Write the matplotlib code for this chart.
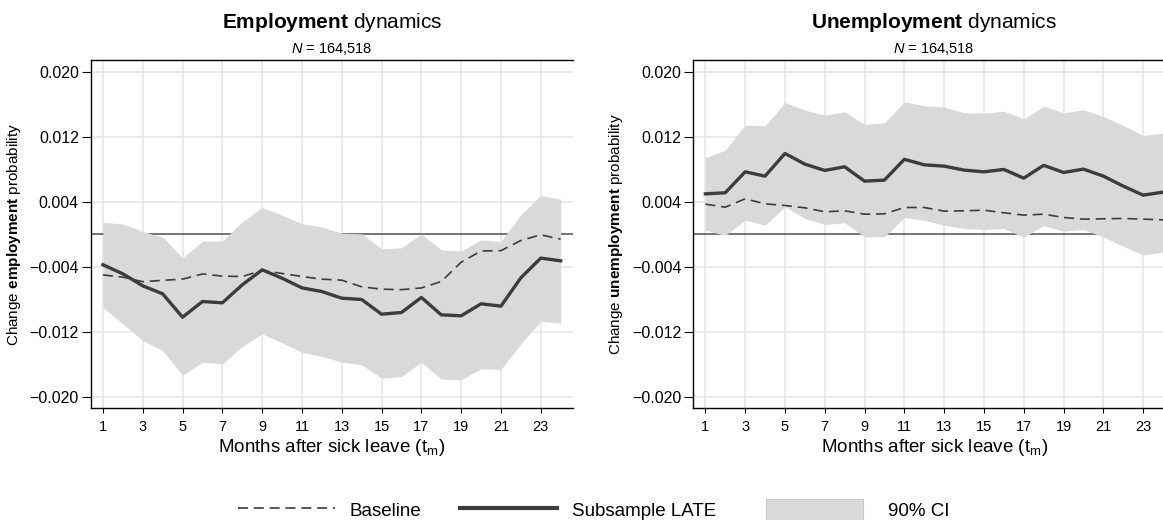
import numpy as np
import matplotlib
matplotlib.use("Agg")
import matplotlib.pyplot as plt
from matplotlib.lines import Line2D
from matplotlib.patches import Patch

plt.rcParams['font.family'] = ['Liberation Sans', 'DejaVu Sans']
plt.rcParams['mathtext.fontset'] = 'custom'
plt.rcParams['mathtext.rm'] = 'Liberation Sans'
plt.rcParams['mathtext.it'] = 'Liberation Sans:italic'
plt.rcParams['mathtext.bf'] = 'Liberation Sans:bold'

######################
months = np.arange(1, 25)

# employment: baseline, subsample LATE and 90% CI bounds
emp_base = [-0.00502, -0.00529, -0.00585, -0.00568, -0.00554, -0.00490, -0.00517, -0.00521,
            -0.00447, -0.00484, -0.00521, -0.00554, -0.00566, -0.00648, -0.00677, -0.00683,
            -0.00662, -0.00583, -0.00345, -0.00207, -0.00203, -0.00078, -0.00008, -0.00062]
emp_late = [-0.00377, -0.00488, -0.00636, -0.00734, -0.01022, -0.00829, -0.00845, -0.00624,
            -0.00439, -0.00542, -0.00661, -0.00706, -0.00788, -0.00804, -0.00985, -0.00964,
            -0.00779, -0.00993, -0.01005, -0.00857, -0.00886, -0.00537, -0.00295, -0.00328]
emp_hi = [0.00144, 0.00127, 0.00033, -0.00037, -0.00291, -0.00086, -0.00086, 0.00152,
          0.00328, 0.00234, 0.00127, 0.00088, 0.00012, 0.00004, -0.00181, -0.00168,
          0.00004, -0.00193, -0.00209, -0.00070, -0.00090, 0.00238, 0.00476, 0.00431]
emp_lo = [-0.00903, -0.01104, -0.01309, -0.01432, -0.01740, -0.01575, -0.01596, -0.01383,
          -0.01227, -0.01337, -0.01452, -0.01504, -0.01575, -0.01608, -0.01772, -0.01752,
          -0.01575, -0.01784, -0.01792, -0.01657, -0.01665, -0.01350, -0.01071, -0.01095]

# unemployment
unemp_base = [0.00369, 0.00332, 0.00435, 0.00373, 0.00353, 0.00324, 0.00275, 0.00287,
              0.00246, 0.00250, 0.00328, 0.00328, 0.00283, 0.00287, 0.00295, 0.00263,
              0.00234, 0.00246, 0.00205, 0.00185, 0.00189, 0.00193, 0.00185, 0.00176]
unemp_late = [0.00496, 0.00509, 0.00767, 0.00714, 0.00993, 0.00862, 0.00784, 0.00829,
              0.00652, 0.00665, 0.00921, 0.00853, 0.00837, 0.00788, 0.00767, 0.00796,
              0.00689, 0.00847, 0.00759, 0.00800, 0.00714, 0.00591, 0.00480, 0.00517]
unemp_hi = [0.00940, 0.01034, 0.01342, 0.01333, 0.01620, 0.01526, 0.01465, 0.01506,
            0.01350, 0.01370, 0.01629, 0.01580, 0.01563, 0.01494, 0.01490, 0.01514,
            0.01420, 0.01575, 0.01493, 0.01530, 0.01448, 0.01337, 0.01214, 0.01243]
unemp_lo = [0.00049, -0.00016, 0.00172, 0.00111, 0.00336, 0.00193, 0.00119, 0.00140,
            -0.00033, -0.00033, 0.00205, 0.00172, 0.00111, 0.00070, 0.00057, 0.00070,
            -0.00037, 0.00105, 0.00037, 0.00057, -0.00033, -0.00150, -0.00254, -0.00222]

n_obs = '164,518'
yticks = [-0.020, -0.012, -0.004, 0.004, 0.012, 0.020]
xticks = list(range(1, 24, 2))
legend_labels = ['Baseline', 'Subsample LATE', '90% CI']
######################

ci_col = '#d9d9d9'
line_col = '#3c3c3c'
grid_col = '#e4e4e4'
dash = (0, (6, 3.5))

fig = plt.figure(figsize=(11.63, 5.2), dpi=100)

W, H = 1163., 520.
ax_w = 481.6 / W
ax_b = 1 - 408.3 / H
ax_h = (408.3 - 60.) / H
axes = [fig.add_axes([91. / W, ax_b, ax_w, ax_h]),
        fig.add_axes([693.4 / W, ax_b, ax_w, ax_h])]

panels = [
    (emp_base, emp_late, emp_lo, emp_hi, 'Employment', 'employment'),
    (unemp_base, unemp_late, unemp_lo, unemp_hi, 'Unemployment', 'unemployment'),
]

for ax, (base, late, lo, hi, ttl, word) in zip(axes, panels):
    ax.set_xlim(0.4, 24.6)
    ax.set_ylim(-0.02143, 0.02143)

    # grid first, then zero line, CI band on top of both
    for xv in xticks:
        ax.axvline(xv, color=grid_col, lw=1.1, zorder=0)
    for yv in yticks:
        ax.axhline(yv, color=grid_col, lw=1.1, zorder=0)
    ax.axhline(0, color='#505050', lw=1.1, zorder=1)

    ax.fill_between(months, lo, hi, color=ci_col, lw=0, zorder=2)
    ax.plot(months, base, color=line_col, lw=1.2, ls=dash, zorder=3)
    ax.plot(months, late, color=line_col, lw=2.4, zorder=4)

    ax.set_xticks(xticks)
    ax.set_yticks(yticks)
    ax.set_yticklabels(['%.3f' % v if v > 0 else '\u2212%.3f' % abs(v) for v in yticks])
    ax.tick_params(axis='x', length=3.6, width=0.8, pad=5, labelsize=10.5)
    ax.tick_params(axis='y', length=6.7, width=0.8, pad=2, labelsize=11.5)

    for side in ['left', 'bottom', 'top']:
        ax.spines[side].set_linewidth(1.0)
        ax.spines[side].set_color('black')
    ax.spines['right'].set_visible(False)

    ax.set_xlabel('Months after sick leave (t$_\\mathrm{m}$)', fontsize=13.5, labelpad=2)
    ax.set_ylabel('Change $\\mathbf{%s}$ probability' % word, fontsize=11)
    ax.yaxis.set_label_coords(-0.141, 0.5)

    # title and sample size above the plot region
    xc = ax.get_position().x0 + ax.get_position().width / 2
    fig.text(xc, 1 - 27.5 / H, '$\\mathbf{%s}$ dynamics' % ttl, fontsize=15,
             ha='center', va='baseline')
    fig.text(xc, 1 - 53. / H, '$N$ = ' + n_obs, fontsize=10.5,
             ha='center', va='baseline')

# legend keys, one small legend each so the gaps can be set separately
handles = [Line2D([], [], color=line_col, lw=1.2, ls=dash),
           Line2D([], [], color=line_col, lw=3.0),
           Patch(facecolor=ci_col, edgecolor='#c8c8c8', lw=0.8)]
key_x = [238., 460., 766.]
text_pad = [0.8, 0.8, 1.35]
for h, lab, kx, tp in zip(handles, legend_labels, key_x, text_pad):
    leg = fig.legend([h], [lab], loc='center left', bbox_to_anchor=(kx / W, 1 - 510. / H),
                     frameon=False, fontsize=13.5, handlelength=5.15, handleheight=1.4,
                     handletextpad=tp, borderpad=0, borderaxespad=0)

plt.savefig('out.png', dpi=100)
